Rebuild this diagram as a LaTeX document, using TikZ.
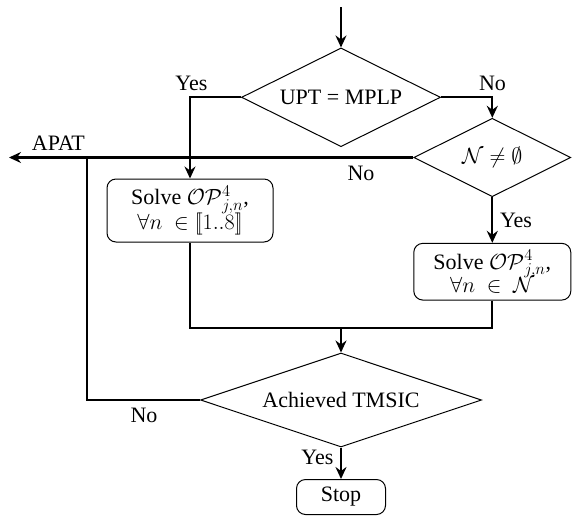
\RequirePackage{fix-cm}
\documentclass[tikz,border=0pt]{standalone}
\usepackage[no-math]{fontspec}
\setmainfont{Liberation Serif}
\usetikzlibrary{shapes.geometric,arrows.meta}
\DeclareMathSizes{22}{22}{16.5}{12}
\newcommand{\mylbr}{[\mkern-2.6mu[}
\newcommand{\myrbr}{]\mkern-2.6mu]}
\begin{document}
\begin{tikzpicture}[x=1pt,y=-1pt,
  every node/.style={font=\fontsize{22}{26}\selectfont},
  conn/.style={line width=2.3pt},
  arr/.style={-{Stealth[length=12pt,width=11pt,inset=4pt]}},
  dia/.style={draw,line width=1pt,diamond,inner sep=0pt,aspect=2},
  rbox/.style={draw,line width=1pt,rounded corners=9pt,inner sep=0pt,align=center},
  lbl/.style={inner sep=0pt}]
\useasboundingbox (0,0) rectangle (572,515);

\coordinate (start) at (341,7);
\node[dia,minimum width=199pt,minimum height=98.7pt] (d1) at (341,97.3) {UPT = MPLP};
\node[dia,minimum width=157pt,minimum height=78.4pt] (d2) at (492.3,157.5) {$\mathcal{N}\neq\emptyset$};
\node[rbox,minimum width=166pt,minimum height=63pt] (b1) at (190,210.5)
  {Solve $\mathcal{OP}^4_{j,n}$,\\[-1pt]$\forall n\ \in \mylbr 1..8\myrbr$};
\node[rbox,minimum width=157pt,minimum height=56.7pt] (b2) at (492.3,271.7)
  {Solve $\mathcal{OP}^4_{j,n}$,\\[-3pt]$\forall n\ \in\ \mathcal{N}$};
\coordinate (mg) at (341,327.7);
\node[dia,minimum width=281pt,minimum height=68.3pt] (d3) at (341,400) {Achieved TMSIC};
\node[rbox,minimum width=89pt,minimum height=35pt] (stop) at (341,497) {Stop};
\coordinate (apat) at (9,157.5);
\coordinate (jn) at (86.8,157.5);

\draw[conn,arr] (start) -- (d1.north);
\draw[conn,arr] (d1.west) -| (b1.north);
\draw[conn,arr] (d1.east) -| (d2.north);
\draw[conn,arr] (d2.west) -- (apat);
\draw[conn] (d3.west) -| (jn);
\draw[conn,arr] (d2.south) -- (b2.north);
\draw[conn] (b1.south) |- (mg);
\draw[conn] (b2.south) |- (mg);
\draw[conn,arr] (mg) -- (d3.north);
\draw[conn,arr] (d3.south) -- (stop.north);

\node[lbl] (l1) at (191.5,83) {Yes};
\node[lbl] (l2) at (492.5,83) {No};
\node[lbl] (l3) at (58.4,143) {APAT};
\node[lbl] (l4) at (361,173) {No};
\node[lbl] (l5) at (516,220) {Yes};
\node[lbl] (l6) at (144,415.7) {No};
\node[lbl] (l7) at (317.4,457.3) {Yes};
\end{tikzpicture}
\end{document}
